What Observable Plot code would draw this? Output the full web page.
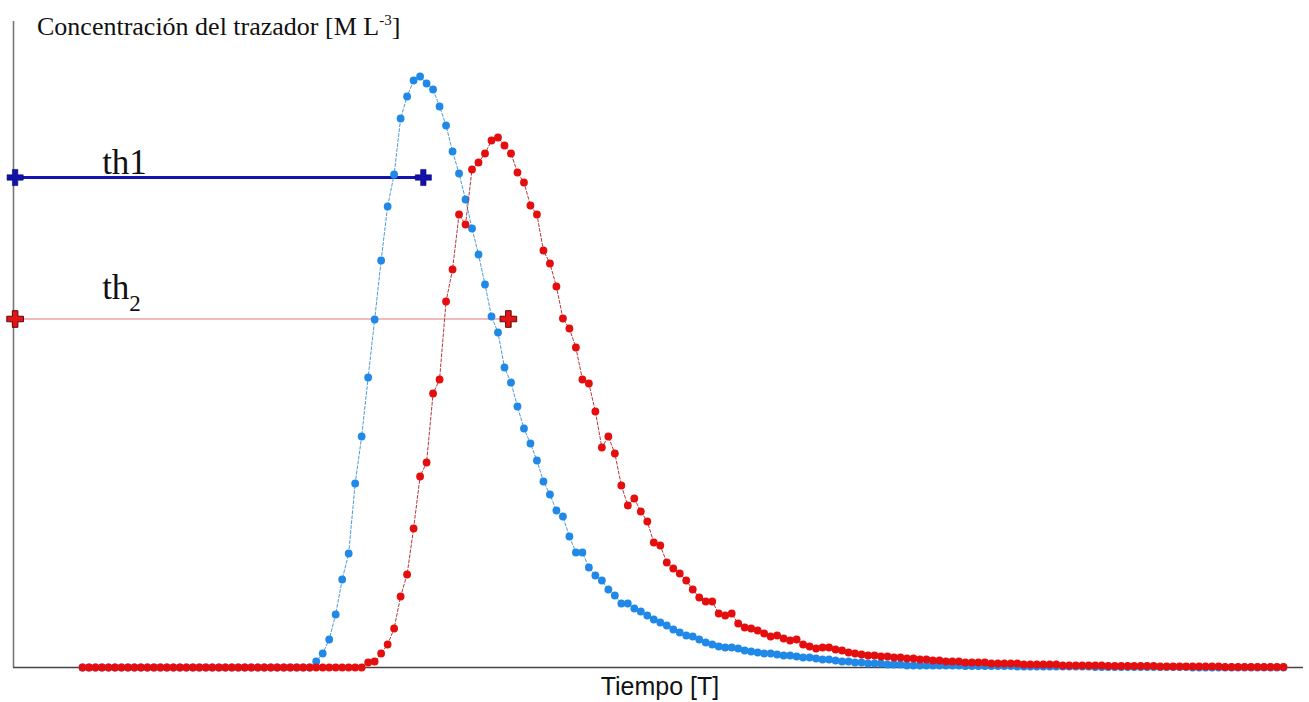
<!DOCTYPE html>
<html>
<head>
<meta charset="utf-8">
<script src="https://cdn.jsdelivr.net/npm/d3@7"></script>
<script src="https://cdn.jsdelivr.net/npm/@observablehq/plot@0.6"></script>
<style>
  html, body { margin: 0; padding: 0; background: #fff; }
  svg { display: block; }
</style>
</head>
<body>
<div id="chart"></div>
<script>
// Tracer concentration, sampled at equal time steps (index = sample number)
const serie1 = [
  0,0,0,0,0,0,0,0,0,0, 0,0,0,0,0,0,0,0,0,0, 0,0,0,0,0,0,0,0,0,0, 0,0,0,0,0,0,
  0.06,0.14,0.28,0.53,0.88,1.14,1.84,2.31,2.90,3.48,4.07,4.61,4.93,5.49,5.71,5.87,5.91,5.84,5.78,5.61,5.42,5.16,4.94,4.68,4.39,4.13,3.83,3.51,3.35,3.00,2.85,
  2.61,2.39,2.24,2.07,1.86,1.73,1.57,1.51,1.31,1.15,1.15,1.00,0.92,0.87,0.78,0.72,0.64,0.64,0.59,0.56,0.52,0.48,0.45,0.42,0.38,0.35,0.32,0.31,0.28,0.25,0.23,0.21,
  0.20,0.20,0.19,0.17,0.16,0.15,0.14,0.14,0.13,0.12,0.12,0.11,0.10,0.10,0.09,0.08,0.08,0.07,0.06,0.06,0.05,0.05,0.04,0.04,0.04,0.03,0.03,0.03,0.02,0.02,0.02,
  0.02,0.02,0.02,0.02,0.02,0.02, 0.015,0.015,0.015,0.015,0.015,0.015,0.015,0.015,
  0.01,0.01,0.01,0.01,0.01,0.01,0.01,0.01,0.01,0.01,0.01,0.01,
  0.005,0.005,0.005,0.005,0.005,0.005,0.005,0.005,0.005,0.005,0.005,0.005,0.005,0.005,0.005,
  0,0,0,0,0,0,0,0,0,0,0,0,0,0,0
];
const serie2 = [
  0,0,0,0,0,0,0,0,0,0, 0,0,0,0,0,0,0,0,0,0, 0,0,0,0,0,0,0,0,0,0, 0,0,0,0,0,0,0,0,0,0, 0,0,0,0,
  0.05,0.06,0.14,0.23,0.39,0.71,0.93,1.39,1.91,2.05,2.74,2.88,3.66,3.98,4.53,4.43,4.98,5.05,5.14,5.27,5.30,5.22,5.14,
  4.95,4.85,4.62,4.53,4.17,4.04,3.81,3.49,3.39,3.20,2.88,2.84,2.56,2.20,2.31,2.14,1.82,1.62,1.69,1.56,1.46,1.25,1.22,1.05,0.99,0.94,0.87,0.78,0.70,0.66,0.66,0.54,0.52,
  0.54,0.44,0.40,0.39,0.37,0.34,0.31,0.32,0.29,0.27,0.28,0.23,0.21,0.19,0.20,0.20,0.18,0.17,0.15,0.14,0.13,0.12,0.12,0.11,0.11,0.10,0.10,0.09,0.09,0.08,
  0.08,0.07,0.07,0.06,0.06,0.06,0.05,0.05,0.05,0.05,0.04,0.04,0.04,0.04,0.04,0.03,0.03,0.03,0.03,0.03,0.03,
  0.02,0.02,0.02,0.02,0.02,0.02,0.02,
  0.015,0.015,0.015,0.015,0.015,0.015,0.015,0.015,
  0.01,0.01,0.01,0.01,0.01,0.01,0.01,0.01,0.01,0.01,
  0.005,0.005,0.005,0.005,0.005,0.005,0.005,0.005,0.005,0.005
];
// Thresholds: level and the time at which each one ends
const thresholdNames = ["th1", "th2"];
const thresholdLevels = [4.90, 3.485];
const thresholdEnds = [52.5, 65.6];

const titleText = "Concentración del trazador [M L";
const titleSup = "-3";
const xLabel = "Tiempo [T]";

const tMin = -10.63, tMax = 188.08, cMax = 6.46;

const d1 = serie1.map((c, i) => ({t: i, c}));
const d2 = serie2.map((c, i) => ({t: i, c}));
const thr = thresholdNames.map((name, k) => ({name, v: thresholdLevels[k], t0: tMin, t1: thresholdEnds[k]}));
const thrEnds = thr.flatMap(d => [{name: d.name, t: d.t0 + 0.25, v: d.v}, {name: d.name, t: d.t1, v: d.v}]);

const plot = Plot.plot({
  width: 1309,
  height: 702,
  marginLeft: 13,
  marginRight: 6,
  marginTop: 21,
  marginBottom: 35,
  x: {domain: [tMin, tMax], axis: null},
  y: {domain: [0, cMax], axis: null},
  marks: [
    Plot.ruleY(thr.filter(d => d.name === "th2"), {y: "v", x1: "t0", x2: "t1", stroke: "#eea4a4", strokeWidth: 1.3}),
    Plot.ruleY(thr.filter(d => d.name === "th1"), {y: "v", x1: "t0", x2: "t1", stroke: "#1414b0", strokeWidth: 3}),
    Plot.ruleX([tMin], {stroke: "#777", strokeWidth: 1.6}),
    Plot.ruleY([0], {stroke: "#444", strokeWidth: 1.4}),
    Plot.line(d1, {x: "t", y: "c", stroke: "#4f9ad6", strokeWidth: 1, strokeDasharray: "3,2"}),
    Plot.dot(d1, {x: "t", y: "c", r: 3.9, fill: "#2089e8", stroke: "none"}),
    Plot.line(d2, {x: "t", y: "c", stroke: "#b03a3a", strokeWidth: 1, strokeDasharray: "3,2"}),
    Plot.dot(d2, {x: "t", y: "c", r: 3.9, fill: "#e50e0e", stroke: "none"}),
    Plot.dot(thrEnds.filter(d => d.name === "th1"), {x: "t", y: "v", symbol: "cross", r: 6.8, fill: "#1212a8", stroke: "#0a0a70", strokeWidth: 0.6}),
    Plot.dot(thrEnds.filter(d => d.name === "th2"), {x: "t", y: "v", symbol: "cross", r: 7, fill: "#e41414", stroke: "#5a0a0a", strokeWidth: 1})
  ]
});

document.getElementById("chart").appendChild(plot);

const svg = d3.select(plot);
const sx = plot.scale("x"), sy = plot.scale("y");

// Title (y-axis label)
const title = svg.append("text")
  .attr("x", 37).attr("y", 35)
  .attr("text-anchor", "start")
  .attr("font-family", "Liberation Serif, Times New Roman, serif")
  .attr("font-size", 26).attr("fill", "#111");
title.append("tspan").text(titleText);
title.append("tspan").attr("font-size", 15).attr("dy", -10).text(titleSup);
title.append("tspan").attr("font-size", 26).attr("dy", 10).text("]");

// x-axis label
svg.append("text")
  .attr("x", 660).attr("y", 695)
  .attr("text-anchor", "middle")
  .attr("font-family", "Liberation Sans, Arial, sans-serif")
  .attr("font-size", 25).attr("fill", "#111")
  .text(xLabel);

// Threshold labels
const labelT = 3.1;
svg.append("text")
  .attr("x", sx.apply(labelT)).attr("y", sy.apply(thresholdLevels[0]) - 3.5)
  .attr("text-anchor", "start")
  .attr("font-family", "Liberation Serif, Times New Roman, serif")
  .attr("font-size", 35).attr("fill", "#111")
  .text("th1");
const th2 = svg.append("text")
  .attr("x", sx.apply(labelT)).attr("y", sy.apply(thresholdLevels[1]) - 20)
  .attr("text-anchor", "start")
  .attr("font-family", "Liberation Serif, Times New Roman, serif")
  .attr("font-size", 35).attr("fill", "#111");
th2.append("tspan").text("th");
th2.append("tspan").attr("font-size", 23).attr("dy", 12).text("2");
</script>
</body>
</html>
